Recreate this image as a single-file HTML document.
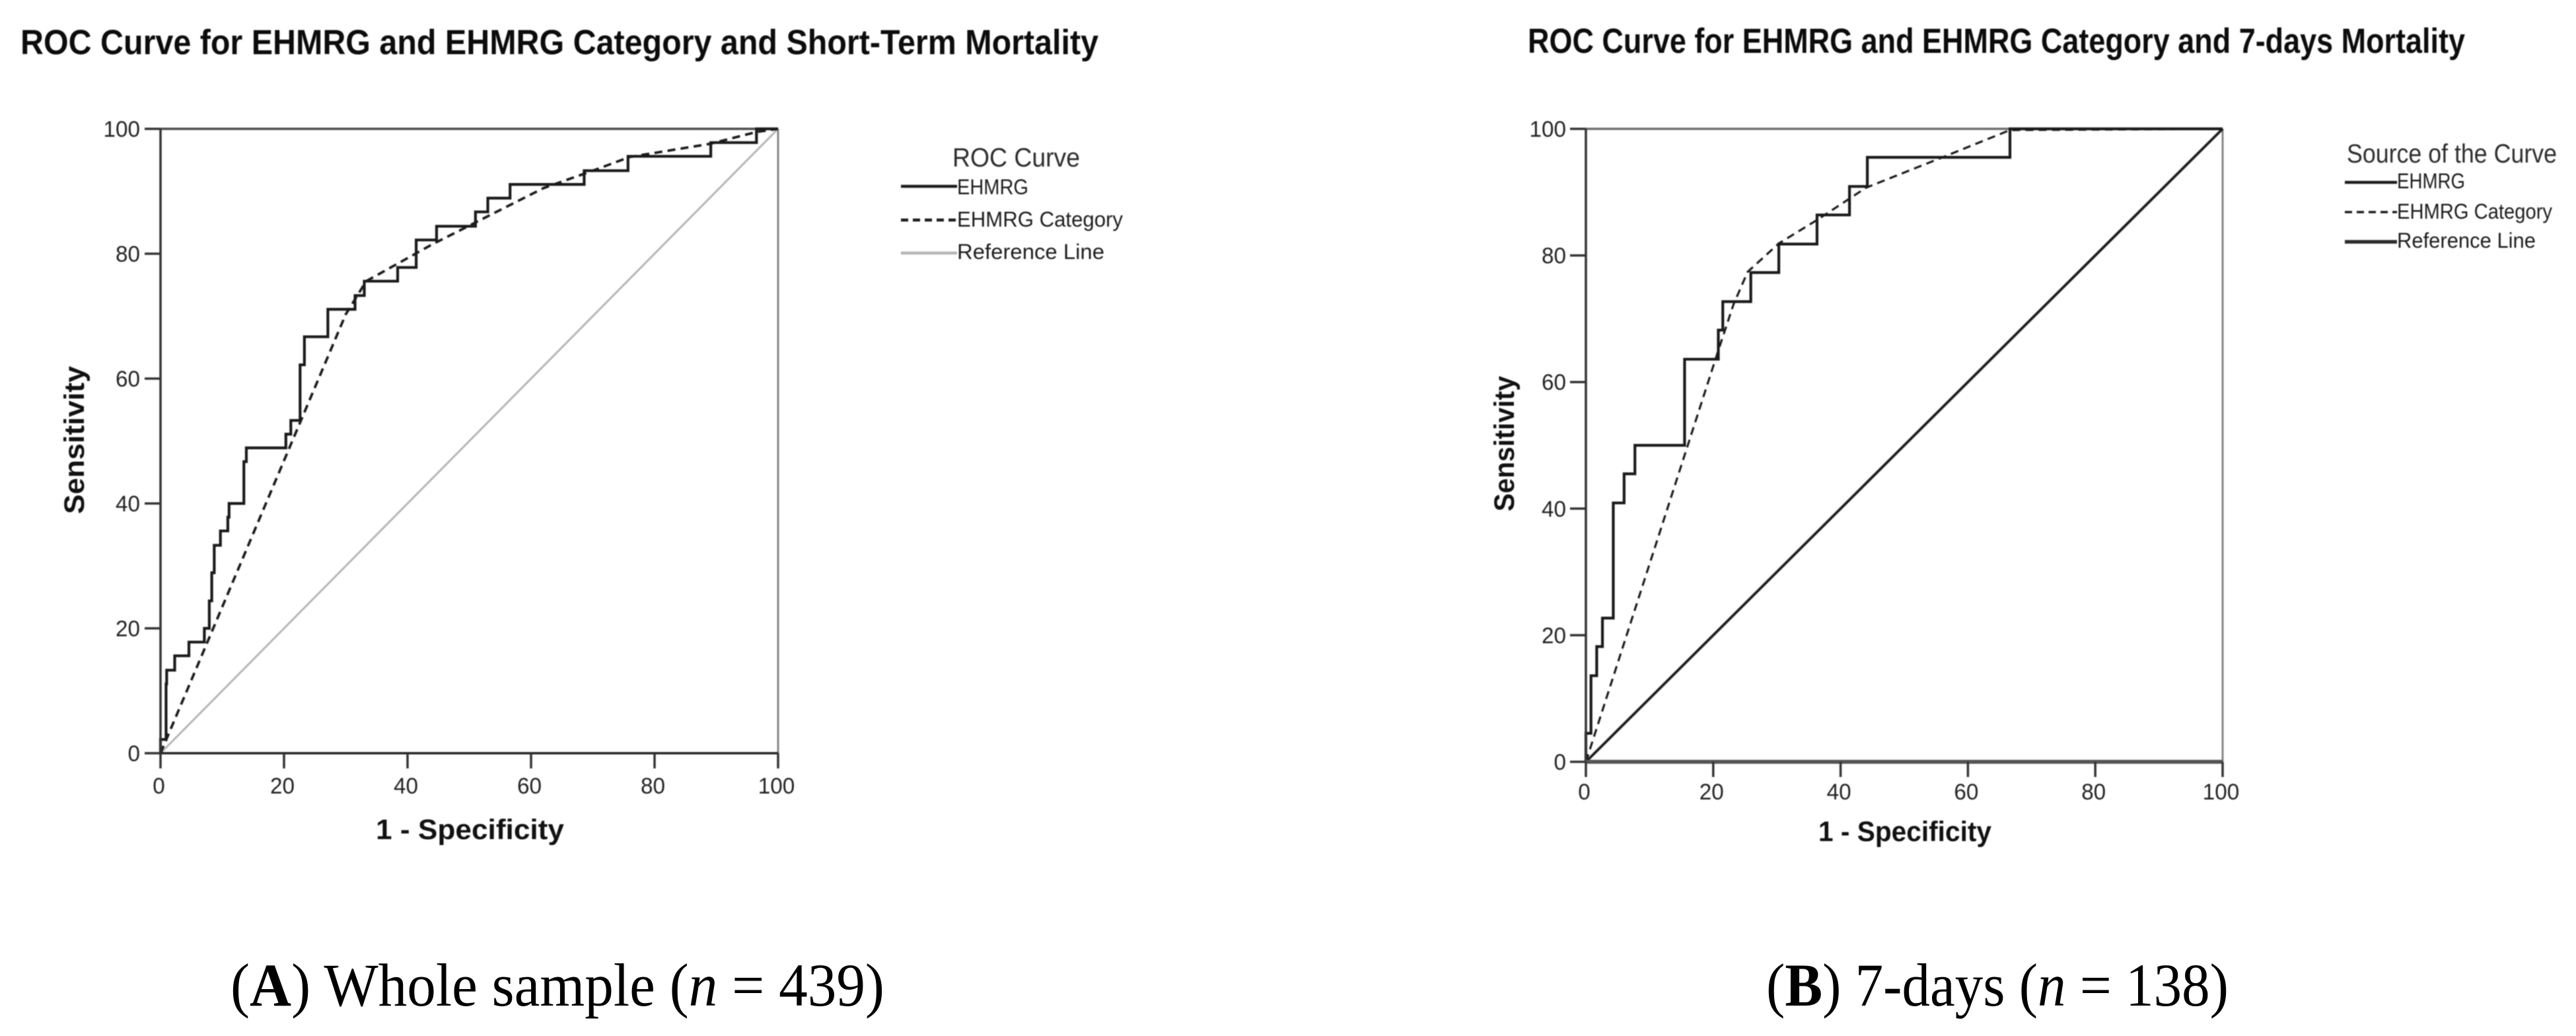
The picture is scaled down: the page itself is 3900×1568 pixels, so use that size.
<!DOCTYPE html>
<html lang="en">
<head>
<meta charset="utf-8">
<title>ROC Curves for EHMRG and EHMRG Category</title>
<style>
html,body{margin:0;padding:0;background:#fff;width:3900px;height:1568px;overflow:hidden}
svg{display:block}
text{font-family:"Liberation Sans",Arial,sans-serif;fill:#1c1c1c}
.title{font-weight:700;font-size:53px;fill:#0c0c0c}
.axis-title{font-weight:700;font-size:43px;fill:#111}
.tick{font-size:34px;fill:#222}
.legend{font-size:32px;fill:#1c1c1c}
.legend-head{font-size:40px;fill:#2c2c2c}
.caption{font-family:"Liberation Serif",serif;font-size:92px;fill:#000}
.soft{filter:blur(0.9px)}
</style>
</head>
<body>
<svg id="figure" xmlns="http://www.w3.org/2000/svg" width="3900" height="1568" viewBox="0 0 3900 1568">
  <rect width="3900" height="1568" fill="#fff"/>

  <g id="panelA" class="soft">
    <text class="title" x="31" y="82" textLength="1632" lengthAdjust="spacingAndGlyphs">ROC Curve for EHMRG and EHMRG Category and Short-Term Mortality</text>
    <text class="axis-title" transform="translate(127 778) rotate(-90)" textLength="224" lengthAdjust="spacingAndGlyphs">Sensitivity</text>
    <text class="axis-title" x="569" y="1270" textLength="285" lengthAdjust="spacingAndGlyphs">1 - Specificity</text>
    <text class="legend-head" x="1442" y="252" textLength="193" lengthAdjust="spacingAndGlyphs">ROC Curve</text>
    <line x1="1364" x2="1449" y1="282" y2="282" stroke="#1c1c1c" stroke-width="4.5"/>
    <text class="legend" x="1449" y="294" textLength="108" lengthAdjust="spacingAndGlyphs">EHMRG</text>
    <line x1="1364" x2="1449" y1="333" y2="333" stroke="#1c1c1c" stroke-width="4.5" stroke-dasharray="11 7"/>
    <text class="legend" x="1449" y="343" textLength="251" lengthAdjust="spacingAndGlyphs">EHMRG Category</text>
    <line x1="1364" x2="1449" y1="383" y2="383" stroke="#b5b5b5" stroke-width="4.5"/>
    <text class="legend" x="1449" y="392" textLength="223" lengthAdjust="spacingAndGlyphs">Reference Line</text>
  </g>

  <g id="panelB" class="soft">
    <text class="title" x="2313" y="80" textLength="1419" lengthAdjust="spacingAndGlyphs">ROC Curve for EHMRG and EHMRG Category and 7-days Mortality</text>
    <text class="axis-title" transform="translate(2292 774) rotate(-90)" textLength="205" lengthAdjust="spacingAndGlyphs">Sensitivity</text>
    <text class="axis-title" x="2753" y="1273" textLength="262" lengthAdjust="spacingAndGlyphs">1 - Specificity</text>
    <text class="legend-head" x="3553" y="246" textLength="318" lengthAdjust="spacingAndGlyphs">Source of the Curve</text>
    <line x1="3550" x2="3629" y1="276" y2="276" stroke="#1c1c1c" stroke-width="4.5"/>
    <text class="legend" x="3629" y="285" textLength="103" lengthAdjust="spacingAndGlyphs">EHMRG</text>
    <line x1="3550" x2="3629" y1="321" y2="321" stroke="#1c1c1c" stroke-width="3.5" stroke-dasharray="11 7"/>
    <text class="legend" x="3629" y="331" textLength="235" lengthAdjust="spacingAndGlyphs">EHMRG Category</text>
    <line x1="3550" x2="3629" y1="366" y2="366" stroke="#2c2c2c" stroke-width="5.5"/>
    <text class="legend" x="3629" y="375" textLength="210" lengthAdjust="spacingAndGlyphs">Reference Line</text>
  </g>

  <text class="caption" x="349" y="1522" textLength="990" lengthAdjust="spacingAndGlyphs">(<tspan font-weight="700">A</tspan>) Whole sample (<tspan font-style="italic">n</tspan> = 439)</text>
  <text class="caption" x="2674" y="1522" textLength="700" lengthAdjust="spacingAndGlyphs">(<tspan font-weight="700">B</tspan>) 7-days (<tspan font-style="italic">n</tspan> = 138)</text>
</svg>

<script>
const tickLabels = [0, 20, 40, 60, 80, 100];

const ehmrgAFpr = [0, 0.9, 1, 2.3, 4.6, 7.1, 7.9, 8.3, 8.7, 9.7, 10.9, 11.1, 13.5, 13.9, 20.3, 21.1, 22.6, 23.3, 27.1, 31.5, 33, 38.4, 41.4, 44.7, 51, 53, 56.6, 68.6, 75.7, 89.1, 96.5];
const ehmrgATpr = [2.2, 11.1, 13.3, 15.6, 17.8, 20, 24.4, 28.9, 33.3, 35.6, 37.8, 40, 46.7, 48.9, 51.1, 53.3, 62.2, 66.7, 71.1, 73.3, 75.6, 77.8, 82.2, 84.4, 86.7, 88.9, 91.1, 93.3, 95.6, 97.8, 100];
const categoryAFpr = [0, 30, 33.3, 44, 52, 62, 70, 76, 89, 96.5, 100];
const categoryATpr = [0, 70.3, 75.6, 81.5, 85.5, 90.5, 93.3, 95.5, 97.6, 99.5, 100];

const ehmrgBFpr = [0, 0.8, 1.7, 2.6, 4.3, 6, 7.7, 15.5, 20.8, 21.5, 25.9, 30.3, 36.3, 41.4, 44.2, 66.6];
const ehmrgBTpr = [4.5, 13.6, 18.2, 22.7, 40.9, 45.5, 50, 63.6, 68.2, 72.7, 77.3, 81.8, 86.4, 90.9, 95.5, 100];
const categoryBFpr = [0, 16, 20.8, 23.2, 25.4, 30.3, 36.3, 44, 56, 66.6, 100];
const categoryBTpr = [0, 50, 65, 72.3, 77.4, 81.9, 85.6, 90.7, 95.5, 99.8, 100];

const referenceFpr = [0, 100];
const referenceTpr = [0, 100];

const SVG_NS = 'http://www.w3.org/2000/svg';

function make(tag, parent, attrs) {
  const el = document.createElementNS(SVG_NS, tag);
  for (const k in attrs) el.setAttribute(k, attrs[k]);
  parent.appendChild(el);
  return el;
}

function stepPath(xs, ys, sx, sy) {
  let d = 'M' + sx(0) + ' ' + sy(0);
  for (let i = 0; i < xs.length; i++) {
    d += 'H' + sx(xs[i]) + 'V' + sy(ys[i]);
  }
  return d + 'H' + sx(100);
}

function linePath(xs, ys, sx, sy) {
  return xs.map((x, i) => (i ? 'L' : 'M') + sx(x) + ' ' + sy(ys[i])).join('');
}

function drawPanel(group, box, style, stepX, stepY, dashX, dashY) {
  const sx = v => box.left + (box.right - box.left) * v / 100;
  const sy = v => box.bottom - (box.bottom - box.top) * v / 100;

  const top = make('line', group, {x1: sx(0), x2: sx(100), y1: sy(100), y2: sy(100), stroke: style.topColor, 'stroke-width': 3.5});
  
  

  const right = make('line', group, {x1: sx(100), x2: sx(100), y1: sy(100), y2: sy(0), stroke: '#858585', 'stroke-width': 3});
  
  

  const refLine = make('path', group, {d: linePath(referenceFpr, referenceTpr, sx, sy), fill: 'none', stroke: style.refColor, 'stroke-width': style.refWidth});
  
  

  const dashed = make('path', group, {d: linePath(dashX, dashY, sx, sy), fill: 'none', stroke: '#1c1c1c', 'stroke-width': style.dashWidth, 'stroke-dasharray': '12 8'});
  
  

  const solid = make('path', group, {d: stepPath(stepX, stepY, sx, sy), fill: 'none', stroke: '#1a1a1a', 'stroke-width': 4.2});
  
  

  const yAxis = make('line', group, {x1: sx(0), x2: sx(0), y1: sy(100), y2: sy(0), stroke: '#333', 'stroke-width': 3.5});
  
  

  const xAxis = make('line', group, {x1: sx(0), x2: sx(100), y1: sy(0), y2: sy(0), stroke: style.xAxisColor, 'stroke-width': style.xAxisWidth});
  
  

  tickLabels.forEach(v => {
    const yt = make('line', group, {x1: sx(0) - 24, x2: sx(0), y1: sy(v), y2: sy(v), stroke: '#333', 'stroke-width': 3.5});
    
    

    const yl = make('text', group, {x: sx(0) - style.yLabelGap, y: sy(v) + 12, 'text-anchor': 'end', class: 'tick', textLength: String(v).length * 18.5, lengthAdjust: 'spacingAndGlyphs'});
    
    
    yl.textContent = v;

    const xt = make('line', group, {x1: sx(v), x2: sx(v), y1: sy(0), y2: sy(0) + 23, stroke: '#333', 'stroke-width': 3.5});
    
    

    const xl = make('text', group, {x: sx(v) - 2.5, y: style.xLabelY, 'text-anchor': 'middle', class: 'tick', textLength: String(v).length * 18.5, lengthAdjust: 'spacingAndGlyphs'});
    
    
    xl.textContent = v;
  });
}

drawPanel(
  document.getElementById('panelA'),
  {left: 243, right: 1178, top: 195, bottom: 1140},
  {topColor: '#4a4a4a', refColor: '#b5b5b5', refWidth: 3, xAxisColor: '#222', xAxisWidth: 3.5, yLabelGap: 31, xLabelY: 1201, dashWidth: 3.8},
  ehmrgAFpr, ehmrgATpr, categoryAFpr, categoryATpr
);

drawPanel(
  document.getElementById('panelB'),
  {left: 2401, right: 3365, top: 195, bottom: 1153},
  {topColor: '#6e6e6e', refColor: '#1f1f1f', refWidth: 4, xAxisColor: '#555', xAxisWidth: 6, yLabelGap: 30, xLabelY: 1210, dashWidth: 3.2},
  ehmrgBFpr, ehmrgBTpr, categoryBFpr, categoryBTpr
);
</script>
</body>
</html>
